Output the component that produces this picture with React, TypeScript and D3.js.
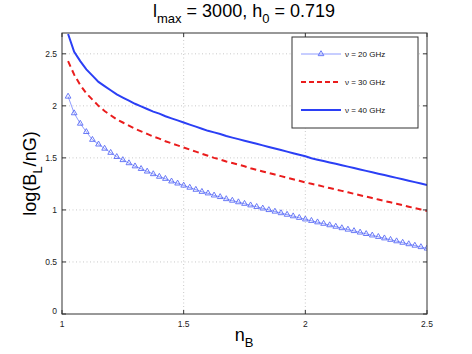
import * as d3 from "d3"

// n_B sample points
const nB = [
  1.025, 1.05, 1.075, 1.1, 1.125, 1.15, 1.175, 1.2, 1.225, 1.25,
  1.275, 1.3, 1.325, 1.35, 1.375, 1.4, 1.425, 1.45, 1.475, 1.5,
  1.525, 1.55, 1.575, 1.6, 1.625, 1.65, 1.675, 1.7, 1.725, 1.75,
  1.775, 1.8, 1.825, 1.85, 1.875, 1.9, 1.925, 1.95, 1.975, 2.0,
  2.025, 2.05, 2.075, 2.1, 2.125, 2.15, 2.175, 2.2, 2.225, 2.25,
  2.275, 2.3, 2.325, 2.35, 2.375, 2.4, 2.425, 2.45, 2.475, 2.5,
]
// log(B_L/nG) for nu = 20 GHz
const nu20 = [
  2.09, 1.93, 1.83, 1.75, 1.675, 1.63, 1.59, 1.55, 1.51, 1.48,
  1.45, 1.42, 1.395, 1.37, 1.345, 1.32, 1.3, 1.275, 1.255, 1.235,
  1.215, 1.195, 1.175, 1.16, 1.14, 1.125, 1.105, 1.09, 1.075, 1.06,
  1.045, 1.03, 1.015, 1.0, 0.985, 0.97, 0.955, 0.94, 0.925, 0.91,
  0.896, 0.882, 0.868, 0.854, 0.84, 0.826, 0.812, 0.798, 0.784, 0.77,
  0.756, 0.742, 0.728, 0.714, 0.7, 0.686, 0.672, 0.658, 0.644, 0.63,
]
// nu = 30 GHz
const nu30 = [
  2.43, 2.3, 2.2, 2.12, 2.06, 2.0, 1.95, 1.91, 1.87, 1.84,
  1.81, 1.78, 1.755, 1.73, 1.705, 1.685, 1.66, 1.64, 1.62, 1.6,
  1.58, 1.56, 1.54, 1.52, 1.5, 1.485, 1.465, 1.45, 1.435, 1.42,
  1.4, 1.385, 1.37, 1.355, 1.34, 1.325, 1.31, 1.295, 1.28, 1.265,
  1.251, 1.238, 1.224, 1.21, 1.196, 1.183, 1.169, 1.155, 1.141, 1.128,
  1.114, 1.1, 1.086, 1.073, 1.059, 1.045, 1.031, 1.018, 1.004, 0.99,
]
// nu = 40 GHz
const nu40 = [
  2.69, 2.52, 2.43, 2.35, 2.29, 2.23, 2.19, 2.15, 2.11, 2.08,
  2.05, 2.02, 1.995, 1.97, 1.945, 1.925, 1.9, 1.88, 1.86, 1.84,
  1.82, 1.8, 1.78, 1.76, 1.745, 1.73, 1.71, 1.695, 1.68, 1.665,
  1.65, 1.635, 1.62, 1.605, 1.59, 1.575, 1.56, 1.545, 1.53, 1.515,
  1.497, 1.483, 1.47, 1.456, 1.443, 1.429, 1.416, 1.402, 1.389, 1.375,
  1.362, 1.348, 1.335, 1.321, 1.308, 1.294, 1.281, 1.267, 1.254, 1.24,
]
const xTicks = [1, 1.5, 2, 2.5]
const yTicks = [0, 0.5, 1, 1.5, 2, 2.5]
const legendLabels = ["ν = 20 GHz", "ν = 30 GHz", "ν = 40 GHz"]

const W = 472
const H = 354
const M = { left: 62, top: 33, right: 45, bottom: 40 }
const FONT = "'Liberation Sans', Arial, Helvetica, sans-serif"

const TRI_COLOR = "#5a6cf5"
const TRI_LINE = "#8f9cff"
const RED = "#ea1c1c"
const BLUE = "#2b3ff5"

export default function App() {
  const x = d3.scaleLinear().domain([1, 2.5]).range([M.left, W - M.right])
  const y = d3.scaleLinear().domain([0, 2.7]).range([H - M.bottom, M.top])
  const x0 = x.range()[0], x1 = x.range()[1]
  const y0 = y.range()[0], y1 = y.range()[1]

  const line = (vals: number[]) =>
    d3.line<number>().x((_, i) => x(nB[i])).y((d) => y(d))(vals) || ""
  const tri = d3.symbol(d3.symbolTriangle).size(14)() || ""

  const lx = 301, lw = 40
  const ly = [54, 82, 110]

  return (
    <svg width={W} height={H} style={{ position: "absolute", left: 0, top: 0, background: "#fff" }} fontFamily={FONT}>
      <defs>
        <clipPath id="plot">
          <rect x={x0} y={y1} width={x1 - x0} height={y0 - y1} />
        </clipPath>
      </defs>
      <rect x={x0} y={y1} width={x1 - x0} height={y0 - y1} fill="#fff" />
      {/* grid */}
      {xTicks.slice(1, -1).map((t) => (
        <line key={"gx" + t} x1={x(t)} x2={x(t)} y1={y0} y2={y1} stroke="#bbb" strokeWidth={0.8} strokeDasharray="1,2.5" />
      ))}
      {yTicks.slice(1).map((t) => (
        <line key={"gy" + t} x1={x0} x2={x1} y1={y(t)} y2={y(t)} stroke="#bbb" strokeWidth={0.8} strokeDasharray="1,2.5" />
      ))}
      {/* series */}
      <g clipPath="url(#plot)">
        <path d={line(nu20)} fill="none" stroke={TRI_LINE} strokeWidth={1} />
        {nu20.map((v, i) => (
          <path key={i} d={tri} transform={`translate(${x(nB[i])},${y(v)})`} fill="none" stroke={TRI_COLOR} strokeWidth={0.9} />
        ))}
        <path d={line(nu30)} fill="none" stroke={RED} strokeWidth={2} strokeDasharray="6,4" />
        <path d={line(nu40)} fill="none" stroke={BLUE} strokeWidth={2} />
      </g>
      {/* axes box and ticks */}
      <rect x={x0} y={y1} width={x1 - x0} height={y0 - y1} fill="none" stroke="#333" strokeWidth={1} />
      {xTicks.map((t) => (
        <g key={"tx" + t}>
          <line x1={x(t)} x2={x(t)} y1={y0} y2={y0 - 4} stroke="#333" />
          <line x1={x(t)} x2={x(t)} y1={y1} y2={y1 + 4} stroke="#333" />
          <text x={x(t)} y={y0 + 13} fontSize={8.5} textAnchor="middle" fill="#222">{t}</text>
        </g>
      ))}
      {yTicks.map((t) => (
        <g key={"ty" + t}>
          <line x1={x0} x2={x0 + 4} y1={y(t)} y2={y(t)} stroke="#333" />
          <line x1={x1} x2={x1 - 4} y1={y(t)} y2={y(t)} stroke="#333" />
          <text x={x0 - 5} y={y(t) + (t === 0 ? 0 : 3)} fontSize={8.5} textAnchor="end" fill="#222">{t}</text>
        </g>
      ))}
      {/* legend */}
      <rect x={292} y={37} width={126} height={91} fill="#fff" stroke="#333" strokeWidth={1} />
      <line x1={lx} x2={lx + lw} y1={ly[0]} y2={ly[0]} stroke={TRI_LINE} strokeWidth={1} />
      <path d={tri} transform={`translate(${lx + lw / 2},${ly[0]})`} fill="none" stroke={TRI_COLOR} strokeWidth={0.9} />
      <line x1={lx} x2={lx + lw} y1={ly[1]} y2={ly[1]} stroke={RED} strokeWidth={2} strokeDasharray="5,3" />
      <line x1={lx} x2={lx + lw} y1={ly[2]} y2={ly[2]} stroke={BLUE} strokeWidth={2} />
      {legendLabels.map((s, i) => (
        <text key={s} x={lx + lw + 4} y={ly[i] + 3} fontSize={8} fill="#111">{s}</text>
      ))}
      {/* title */}
      <text x={244} y={17} fontSize={18} textAnchor="middle" fill="#000">
        l<tspan dy={6} fontSize={13}>max</tspan>
        <tspan dy={-6}> = 3000, h</tspan>
        <tspan dy={6} fontSize={13}>0</tspan>
        <tspan dy={-6}> = 0.719</tspan>
      </text>
      {/* axis labels */}
      <text x={244} y={341} fontSize={18} textAnchor="middle" fill="#000">
        n<tspan dy={6} fontSize={13}>B</tspan>
      </text>
      <text transform={`translate(36,${(y0 + y1) / 2}) rotate(-90)`} fontSize={18} textAnchor="middle" fill="#000">
        log(B<tspan dy={6} fontSize={13}>L</tspan>
        <tspan dy={-6}>/nG)</tspan>
      </text>
    </svg>
  )
}
